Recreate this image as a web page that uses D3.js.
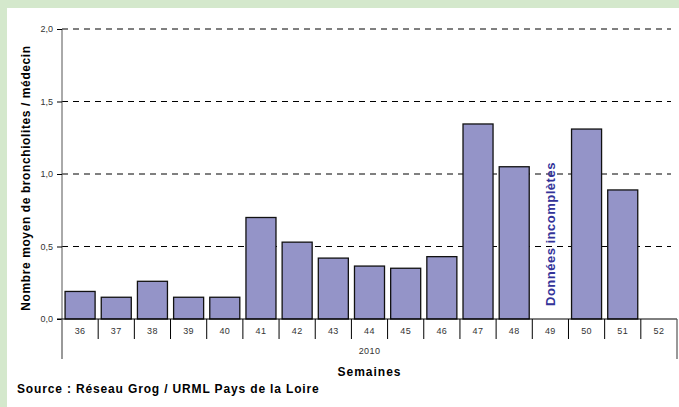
<!DOCTYPE html>
<html><head><meta charset="utf-8">
<script src="https://cdn.jsdelivr.net/npm/d3@7"></script>
<style>body{margin:0;background:#d4e8cc;} svg{display:block;font-family:Arial,"Liberation Sans",sans-serif;}</style>
</head><body><svg id="c" width="679" height="407"></svg>
<script>
const weeks = ["36","37","38","39","40","41","42","43","44","45","46","47","48","49","50","51","52"];
const values = [0.19,0.15,0.26,0.15,0.15,0.70,0.53,0.42,0.365,0.35,0.43,1.345,1.05,null,1.31,0.89,null];
const yTicks = [0,0.5,1.0,1.5,2.0];
const yearLabel = "2010";
const note = "Données incomplètes";
const noteWeek = "49";

const svg = d3.select("#c");
svg.append("rect").attr("x",7).attr("y",8).attr("width",672).attr("height",399).attr("fill","#fff");
const L=62,R=677,T=29,B=319;
const x = d3.scaleBand().domain(weeks).range([L,R]).paddingInner(0.17).paddingOuter(0.085);
const xc = d3.scaleBand().domain(weeks).range([L,R]);
const y = d3.scaleLinear().domain([0,2]).range([B,T]);
const fmt = v => d3.format(".1f")(v).replace(".",",");

// gridlines
svg.append("g").selectAll("line").data(yTicks.filter(d=>d>0)).join("line")
  .attr("x1",L).attr("x2",671).attr("y1",d=>y(d)).attr("y2",d=>y(d))
  .attr("stroke","#000").attr("stroke-width",1).attr("stroke-dasharray","6,5");

// y axis
const ya = svg.append("g").attr("transform",`translate(${L},0)`)
  .call(d3.axisLeft(y).tickValues(yTicks).tickFormat(fmt).tickSize(5));
ya.select(".domain").attr("stroke","#555").attr("d",`M0,${T}V${B}`);
ya.selectAll("text").attr("font-size",9).attr("fill","#333").attr("dx",-1);

// bars
svg.append("g").selectAll("rect").data(weeks.map((w,i)=>({w,v:values[i]})).filter(d=>d.v!=null)).join("rect")
  .attr("x",d=>x(d.w)).attr("width",x.bandwidth())
  .attr("y",d=>y(d.v)).attr("height",d=>B-y(d.v))
  .attr("fill","#9494c8").attr("stroke","#111").attr("stroke-width",1.3);

// x axis
svg.append("line").attr("x1",L-5).attr("x2",R).attr("y1",B).attr("y2",B).attr("stroke","#000");
svg.append("g").selectAll("line").data(weeks.slice(1)).join("line")
  .attr("x1",d=>xc(d)).attr("x2",d=>xc(d)).attr("y1",B).attr("y2",B+20).attr("stroke","#000");
[L,R].forEach(px=>svg.append("line").attr("x1",px).attr("x2",px).attr("y1",B).attr("y2",B+40).attr("stroke","#555").attr("stroke-width",1.2));
svg.append("g").selectAll("text").data(weeks).join("text")
  .attr("x",d=>xc(d)+xc.bandwidth()/2).attr("y",B+15).attr("text-anchor","middle")
  .attr("font-size",9).attr("letter-spacing",0.4).attr("fill","#333").text(d=>d);
svg.append("text").attr("x",(L+R)/2).attr("y",B+35).attr("text-anchor","middle").attr("font-size",9).attr("letter-spacing",0.4).attr("fill","#333").text(yearLabel);
svg.append("text").attr("x",(L+R)/2).attr("y",376).attr("text-anchor","middle").attr("font-size",12).attr("letter-spacing",1).attr("font-weight","bold").text("Semaines");
svg.append("text").attr("x",17).attr("y",393).attr("font-size",12).attr("letter-spacing",0.85).attr("font-weight","bold").text("Source : Réseau Grog / URML Pays de la Loire");
svg.append("text").attr("transform",`translate(30,178) rotate(-90)`).attr("text-anchor","middle")
  .attr("font-size",12).attr("letter-spacing",0.6).attr("font-weight","bold").text("Nombre moyen de bronchiolites  / médecin");
svg.append("text").attr("transform",`translate(${xc(noteWeek)+xc.bandwidth()/2+5},${B-13}) rotate(-90)`)
  .attr("font-size",13).attr("letter-spacing",0.5).attr("font-weight","bold").attr("fill","#333399").text(note);
</script></body></html>
